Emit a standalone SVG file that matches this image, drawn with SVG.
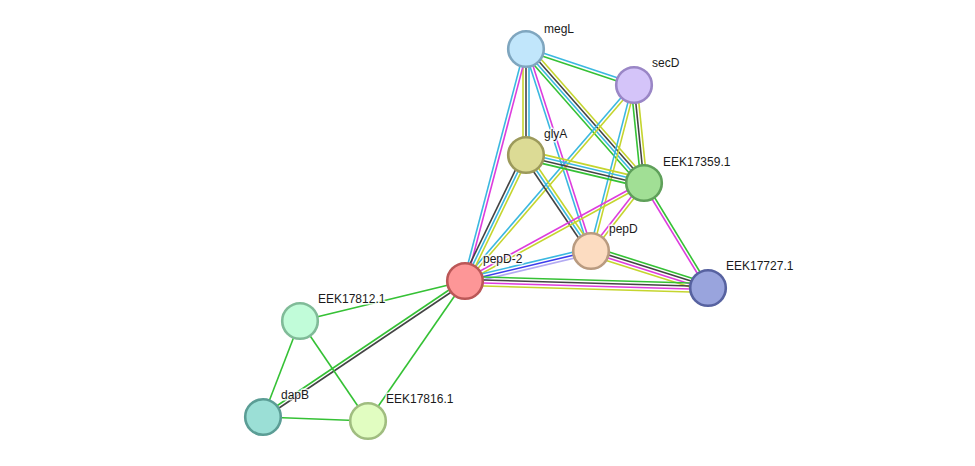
<svg xmlns="http://www.w3.org/2000/svg" width="975" height="466" viewBox="0 0 975 466">
<style>
line{stroke-width:1.6;fill:none}
.g{stroke:#35c135}.c{stroke:#3bb8e0}.k{stroke:#444444}.y{stroke:#c5d52e}.m{stroke:#dd3ddd}.b{stroke:#3d3dec}.l{stroke:#b3aaf2}
circle{stroke-width:2.6}
text{font-family:"Liberation Sans",Arial,sans-serif;font-size:12px;fill:#1a1a1a;stroke:#ffffff;stroke-width:3px;stroke-opacity:0.8;paint-order:stroke;stroke-linejoin:round}
</style>
<rect width="975" height="466" fill="#ffffff"/>
<g id="edges">
<g transform="translate(526 49) rotate(18.43)"><line class="c" x2="113.84" y1="-1.5" y2="-1.5"/><line class="g" x2="113.84" y1="1.5" y2="1.5"/></g>
<g transform="translate(526 49) rotate(90)"><line class="c" x2="106" y1="-3" y2="-3"/><line class="k" x2="106" y1="0" y2="0"/><line class="y" x2="106" y1="3" y2="3"/></g>
<g transform="translate(526 49) rotate(48.63)"><line class="y" x2="178.55" y1="-4.5" y2="-4.5"/><line class="k" x2="178.55" y1="-1.5" y2="-1.5"/><line class="c" x2="178.55" y1="1.5" y2="1.5"/><line class="g" x2="178.55" y1="4.5" y2="4.5"/></g>
<g transform="translate(526 49) rotate(72.16)"><line class="m" x2="212.2" y1="-1.5" y2="-1.5"/><line class="c" x2="212.2" y1="1.5" y2="1.5"/></g>
<g transform="translate(526 49) rotate(104.73)"><line class="m" x2="239.89" y1="-1.5" y2="-1.5"/><line class="c" x2="239.89" y1="1.5" y2="1.5"/></g>
<g transform="translate(634 85) rotate(84.17)"><line class="y" x2="98.51" y1="-3" y2="-3"/><line class="k" x2="98.51" y1="0" y2="0"/><line class="g" x2="98.51" y1="3" y2="3"/></g>
<g transform="translate(634 85) rotate(104.52)"><line class="y" x2="171.48" y1="-1.5" y2="-1.5"/><line class="c" x2="171.48" y1="1.5" y2="1.5"/></g>
<g transform="translate(634 85) rotate(130.77)"><line class="y" x2="258.8" y1="-1.5" y2="-1.5"/><line class="c" x2="258.8" y1="1.5" y2="1.5"/></g>
<g transform="translate(526 155) rotate(13.35)"><line class="y" x2="121.28" y1="-4.5" y2="-4.5"/><line class="c" x2="121.28" y1="-1.5" y2="-1.5"/><line class="k" x2="121.28" y1="1.5" y2="1.5"/><line class="g" x2="121.28" y1="4.5" y2="4.5"/></g>
<g transform="translate(526 155) rotate(55.9)"><line class="y" x2="115.94" y1="-3" y2="-3"/><line class="c" x2="115.94" y1="0" y2="0"/><line class="k" x2="115.94" y1="3" y2="3"/></g>
<g transform="translate(526 155) rotate(115.83)"><line class="y" x2="139.99" y1="-3" y2="-3"/><line class="c" x2="139.99" y1="0" y2="0"/><line class="k" x2="139.99" y1="3" y2="3"/></g>
<g transform="translate(644 183) rotate(127.93)"><line class="y" x2="86.21" y1="-1.5" y2="-1.5"/><line class="m" x2="86.21" y1="1.5" y2="1.5"/></g>
<g transform="translate(644 183) rotate(151.3)"><line class="y" x2="204.07" y1="-1.5" y2="-1.5"/><line class="m" x2="204.07" y1="1.5" y2="1.5"/></g>
<g transform="translate(644 183) rotate(58.64)"><line class="g" x2="122.97" y1="-1.5" y2="-1.5"/><line class="m" x2="122.97" y1="1.5" y2="1.5"/></g>
<g transform="translate(591 251) rotate(166.61)"><line class="l" x2="129.52" y1="-3" y2="-3"/><line class="b" x2="129.52" y1="0" y2="0"/><line class="c" x2="129.52" y1="3" y2="3"/></g>
<g transform="translate(591 251) rotate(17.55)"><line class="g" x2="122.71" y1="-4.5" y2="-4.5"/><line class="k" x2="122.71" y1="-1.5" y2="-1.5"/><line class="m" x2="122.71" y1="1.5" y2="1.5"/><line class="y" x2="122.71" y1="4.5" y2="4.5"/></g>
<g transform="translate(465 281) rotate(1.65)"><line class="g" x2="243.1" y1="-4.5" y2="-4.5"/><line class="k" x2="243.1" y1="-1.5" y2="-1.5"/><line class="m" x2="243.1" y1="1.5" y2="1.5"/><line class="y" x2="243.1" y1="4.5" y2="4.5"/></g>
<g transform="translate(465 281) rotate(166.37)"><line class="g" x2="169.78"/></g>
<g transform="translate(465 281) rotate(146.05)"><line class="k" x2="243.52" y1="-1.5" y2="-1.5"/><line class="g" x2="243.52" y1="1.5" y2="1.5"/></g>
<g transform="translate(465 281) rotate(124.72)"><line class="g" x2="170.32"/></g>
<g transform="translate(300 321) rotate(111.08)"><line class="g" x2="102.88"/></g>
<g transform="translate(300 321) rotate(55.78)"><line class="g" x2="120.93"/></g>
<g transform="translate(263 417) rotate(2.18)"><line class="g" x2="105.08"/></g>
</g>
<g id="megL"><circle cx="526" cy="49" r="17.8" fill="#c1e6fb" stroke="#7fa6bf"/><text x="544" y="33">megL</text></g>
<g id="secD"><circle cx="634" cy="85" r="17.8" fill="#d4c4f9" stroke="#9a86c6"/><text x="652" y="67">secD</text></g>
<g id="glyA"><circle cx="526" cy="155" r="17.8" fill="#dcdb95" stroke="#9c9a5b"/><text x="544" y="138">glyA</text></g>
<g id="EEK17359.1"><circle cx="644" cy="183" r="17.8" fill="#a1df95" stroke="#5fa05a"/><text x="663" y="166">EEK17359.1</text></g>
<g id="pepD"><circle cx="591" cy="251" r="17.8" fill="#fcdcc1" stroke="#b99b80"/><text x="609" y="233">pepD</text></g>
<g id="pepD-2"><circle cx="465" cy="281" r="17.8" fill="#fd9697" stroke="#bb5757"/><text x="483" y="263">pepD-2</text></g>
<g id="EEK17727.1"><circle cx="708" cy="288" r="17.8" fill="#99a4dd" stroke="#5762a0"/><text x="726" y="270">EEK17727.1</text></g>
<g id="EEK17812.1"><circle cx="300" cy="321" r="17.8" fill="#c1fcd9" stroke="#80bb98"/><text x="318" y="303">EEK17812.1</text></g>
<g id="dapB"><circle cx="263" cy="417" r="17.8" fill="#9bdfd6" stroke="#5b9d95"/><text x="281" y="399">dapB</text></g>
<g id="EEK17816.1"><circle cx="368" cy="421" r="17.8" fill="#e1fdc1" stroke="#a0bd80"/><text x="386" y="403">EEK17816.1</text></g>
</svg>
